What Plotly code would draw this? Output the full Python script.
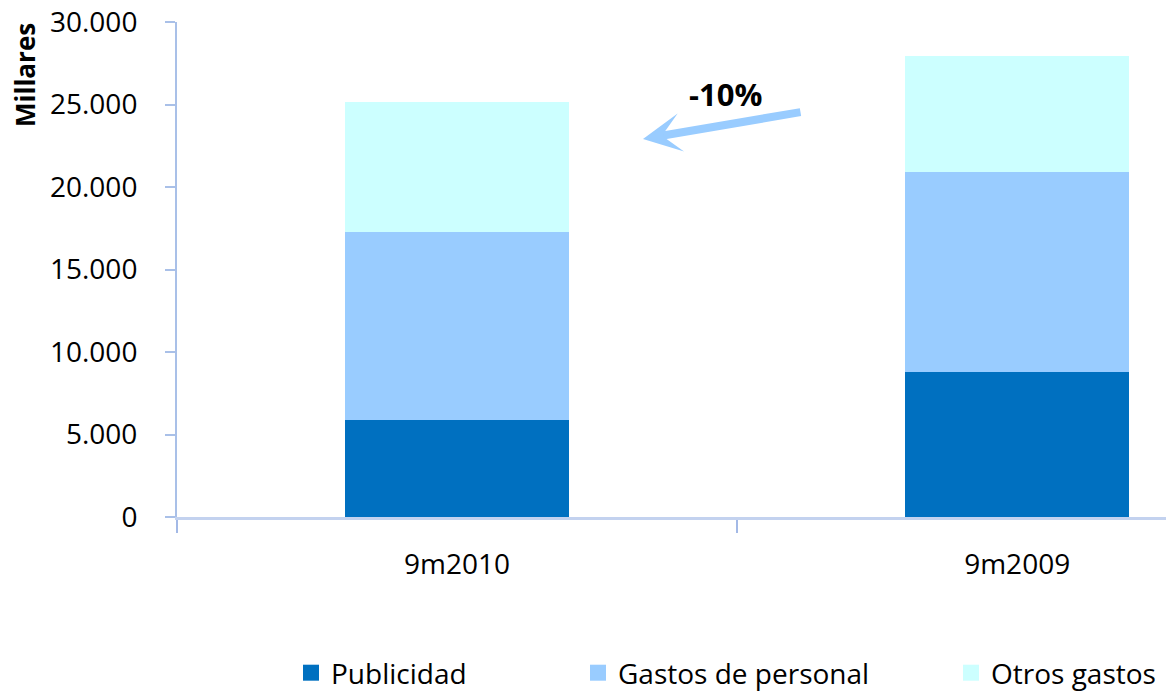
import plotly.graph_objects as go

categories = ["9m2010", "9m2009"]
publicidad = [5850, 8800]
gastos_personal = [11450, 12100]
otros_gastos = [7860, 7030]
series_names = ["Publicidad", "Gastos de personal", "Otros gastos"]
series_colors = ["#0070C0", "#99CCFF", "#CCFFFF"]
y_ticks = [0, 5000, 10000, 15000, 20000, 25000, 30000]
change_label = "-10%"
y_title = "Millares"

# page body adds an 8px offset; figure is sized so it ends at the window edge
OFF = 8
W, H = 1174 - OFF, 692 - OFF


def fx(px):
    return px - OFF


def fy(py):
    return py - OFF


L, R, T, B = fx(177), 0, fy(22), H - fy(517.5)
pw, ph = W - L - R, H - T - B

FONT = "Open Sans"

fig = go.Figure()
values = [publicidad, gastos_personal, otros_gastos]
for name, vals, col in zip(series_names, values, series_colors):
    fig.add_trace(go.Bar(x=categories, y=vals, name=name, marker=dict(color=col, line=dict(width=0)),
                         width=0.4, showlegend=False, hoverinfo="skip"))

legend_text_x = [333, 620, 993]
legend_ids = ["legend", "legend2", "legend3"]
for name, col, lid in zip(series_names, series_colors, legend_ids):
    fig.add_trace(go.Scatter(x=[None], y=[None], mode="markers", name=name,
                             marker=dict(symbol="square", size=21, color=col),
                             legend=lid, showlegend=True))

leg_common = dict(orientation="h", xref="container", yref="container", xanchor="left", yanchor="middle",
                  y=1 - fy(673) / H, font=dict(family=FONT, size=28, color="#000000"), itemsizing="trace",
                  bgcolor="rgba(0,0,0,0)", borderwidth=0)
layout_legends = {}
for lid, tx in zip(legend_ids, legend_text_x):
    layout_legends[lid] = dict(x=(fx(tx) - 40 - 2) / W, **leg_common)

axis_col = "#a9c0e8"
fig.update_layout(
    width=W, height=H,
    margin=dict(l=L, r=R, t=T, b=B, pad=0, autoexpand=False),
    paper_bgcolor="white", plot_bgcolor="white",
    barmode="stack",
    separators=",.",
    hovermode=False,
    font=dict(family=FONT, size=28, color="#000000"),
    xaxis=dict(type="category", range=[-0.5, 1.28], showgrid=False, zeroline=False,
               showline=True, linecolor="#c3d2ef", linewidth=3,
               ticks="outside", tickson="boundaries", ticklen=13, tickwidth=2, tickcolor="#a3b9e6",
               tickfont=dict(family=FONT, size=28, color="#000000"), ticklabelstandoff=20),
    yaxis=dict(range=[0, 30000], tickvals=y_ticks, tickformat=",d", showgrid=False, zeroline=False,
               showline=True, linecolor=axis_col, linewidth=2, ticklabeloverflow="allow",
               ticks="outside", ticklen=10, tickwidth=2, tickcolor=axis_col,
               tickfont=dict(family=FONT, size=28, color="#000000"), ticklabelstandoff=22),
    yaxis2=dict(overlaying="y", side="left", range=[0, 30000], tickvals=y_ticks, showticklabels=False,
                ticks="inside", ticklen=12, tickwidth=2, tickcolor=axis_col,
                showgrid=False, zeroline=False, showline=False),
    xaxis2=dict(overlaying="x", type="linear", range=[-0.5, 1.28], tickvals=[-0.5, 0.5], showticklabels=False,
                ticks="inside", ticklen=6, tickwidth=2, tickcolor="#a3b9e6",
                showgrid=False, zeroline=False, showline=False),
    **layout_legends,
)

fig.add_annotation(xref="paper", yref="paper", x=(fx(643) - L) / pw, y=(fy(517.5) - fy(139)) / ph,
                   ax=159, ay=-27, axref="pixel", ayref="pixel", text="", showarrow=True,
                   arrowhead=3, arrowsize=0.8, arrowwidth=8, arrowcolor="#99CCFF", standoff=0)
fig.add_annotation(xref="paper", yref="paper", x=(fx(725) - L) / pw, y=(fy(517.5) - fy(94)) / ph,
                   text="<b>" + change_label + "</b>", showarrow=False, xanchor="center", yanchor="middle",
                   font=dict(family=FONT, size=31, color="#000000"))
fig.add_annotation(xref="paper", yref="paper", x=(fx(25) - L) / pw, y=(fy(517.5) - fy(75)) / ph,
                   text="<b>" + y_title + "</b>", showarrow=False, textangle=-90, xanchor="center", yanchor="middle",
                   font=dict(family=FONT, size=26, color="#000000"))

fig.write_html("out.html")
